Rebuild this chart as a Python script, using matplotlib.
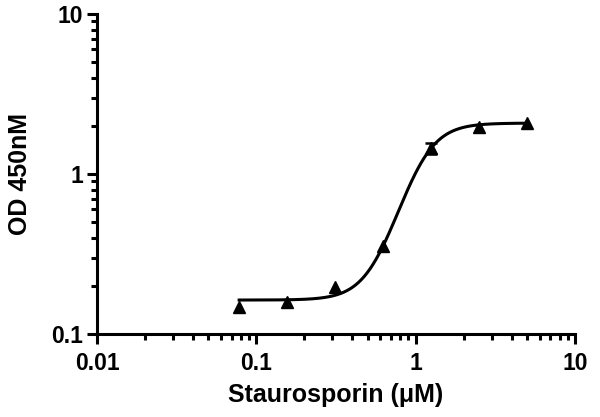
import numpy as np
import matplotlib
matplotlib.use("Agg")
import matplotlib.pyplot as plt
from matplotlib.ticker import LogLocator, FixedLocator, FixedFormatter, NullFormatter

conc = [0.078, 0.156, 0.3125, 0.625, 1.25, 2.5, 5.0]
od = [0.147, 0.159, 0.198, 0.356, 1.45, 1.98, 2.07]
od_err = [0.0, 0.0, 0.0, 0.0, 0.12, 0.0, 0.0]

# 4PL fit parameters
fit_bottom = 0.163
fit_top = 2.08
fit_ec50 = 1.054
fit_hill = 4.19

x_ticks = [0.01, 0.1, 1, 10]
x_tick_labels = ["0.01", "0.1", "1", "10"]
y_ticks = [0.1, 1, 10]
y_tick_labels = ["0.1", "1", "10"]

plt.rcParams['font.family'] = ['Liberation Sans', 'DejaVu Sans']
plt.rcParams['font.weight'] = 'bold'

fig = plt.figure(figsize=(6, 4.17), dpi=100)
ax = fig.add_axes([97/600, 83/417, 478/600, 320/417])

xs = np.logspace(np.log10(conc[0]), np.log10(conc[-1]), 300)
ys = fit_bottom + (fit_top - fit_bottom) / (1 + (fit_ec50 / xs) ** fit_hill)
ax.plot(xs, ys, color='black', lw=2.2, zorder=2)

# error bars only where present
ex = [c for c, e in zip(conc, od_err) if e > 0]
ey = [o for o, e in zip(od, od_err) if e > 0]
ee = [e for e in od_err if e > 0]
ax.errorbar(ex, ey, yerr=ee, fmt='none', ecolor='black',
            capsize=4, elinewidth=1.5, capthick=1.8, zorder=3)
ax.plot(conc, od, '^', color='black', ms=8, zorder=4)

ax.set_xscale('log')
ax.set_yscale('log')
ax.set_xlim(0.01, 10)
ax.set_ylim(0.1, 10)

ax.xaxis.set_major_locator(FixedLocator(x_ticks))
ax.xaxis.set_major_formatter(FixedFormatter(x_tick_labels))
ax.yaxis.set_major_locator(FixedLocator(y_ticks))
ax.yaxis.set_major_formatter(FixedFormatter(y_tick_labels))
ax.xaxis.set_minor_locator(LogLocator(base=10, subs=np.arange(2, 10)))
ax.yaxis.set_minor_locator(LogLocator(base=10, subs=np.arange(2, 10)))
ax.xaxis.set_minor_formatter(NullFormatter())
ax.yaxis.set_minor_formatter(NullFormatter())

for s in ['top', 'right']:
    ax.spines[s].set_visible(False)
for s in ['left', 'bottom']:
    ax.spines[s].set_linewidth(2.2)

ax.tick_params(which='major', direction='out', length=7, width=2.2, labelsize=16.5)
ax.tick_params(axis='x', which='major', pad=6)
ax.tick_params(axis='y', which='major', pad=3)
ax.tick_params(which='minor', direction='out', length=4, width=2.2)
for lab in ax.get_xticklabels() + ax.get_yticklabels():
    lab.set_fontweight('bold')

ax.set_xlabel("Staurosporin (\u03bcM)", fontsize=18, fontweight='bold', labelpad=6)
ax.set_ylabel("OD 450nM", fontsize=18, fontweight='bold', labelpad=14)

fig.savefig("out.png", dpi=100)
